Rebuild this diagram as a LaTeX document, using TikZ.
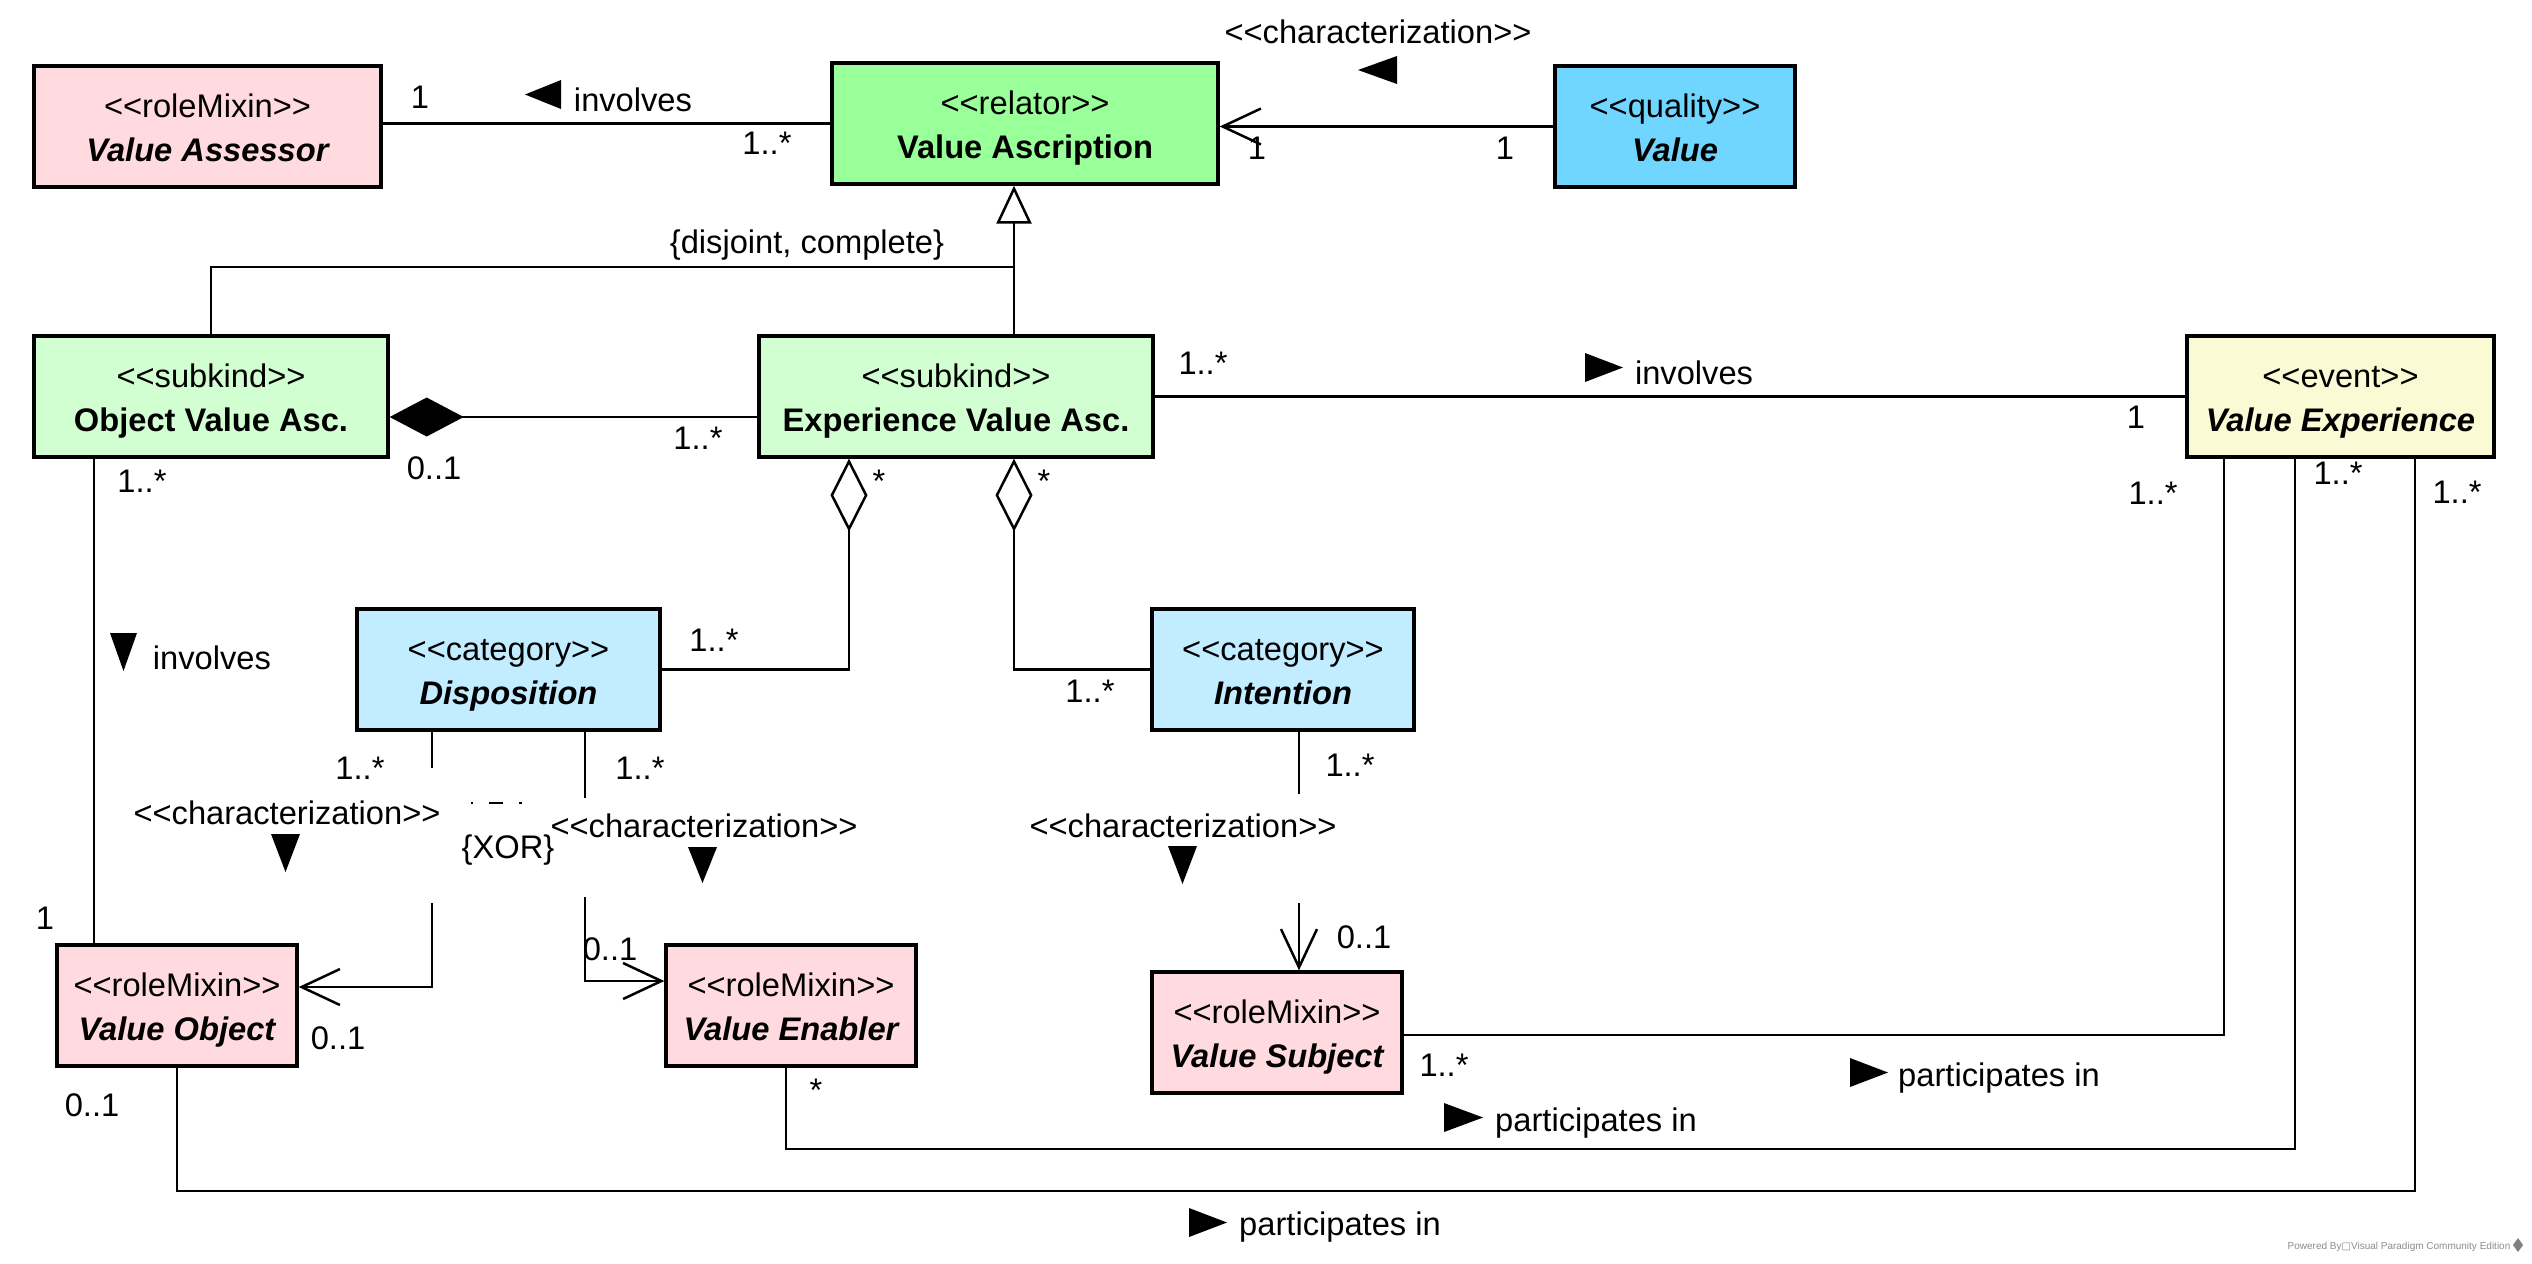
\documentclass[tikz,border=0pt]{standalone}
\usepackage{fontspec}
\setmainfont{Liberation Sans}
\newfontfamily\dejavu{DejaVu Sans}
\usetikzlibrary{arrows.meta,calc}
\definecolor{rolemix}{RGB}{255,218,222}
\definecolor{relatorc}{RGB}{153,255,153}
\definecolor{qualityc}{RGB}{112,214,255}
\definecolor{subkindc}{RGB}{209,255,209}
\definecolor{eventc}{RGB}{250,250,212}
\definecolor{categoryc}{RGB}{194,236,255}
\newcommand\sopen{<\kern0pt<}
\newcommand\sclose{>\kern0pt>}
\tikzset{
 clsbox/.style={draw=black, line width=1pt, inner sep=0pt, rectangle},
 stereo/.style={anchor=base, inner sep=0pt, font=\fontsize{9.8}{11}\selectfont},
 titlebf/.style={anchor=base, inner sep=0pt, font=\fontsize{9.8}{11}\selectfont\bfseries},
 titleit/.style={anchor=base, inner sep=0pt, font=\fontsize{9.8}{11}\selectfont\bfseries\itshape},
 lbl/.style={inner sep=0pt, font=\fontsize{9.8}{11}\selectfont},
 conn/.style={line width=0.75pt},
 navi/.style={conn, -{Straight Barb[length=11.5pt,width=10.8pt]}},
 gen/.style={conn, -{Triangle[open,length=11.4pt,width=10.5pt,fill=white]}},
 comp/.style={conn, {Diamond[length=22.2pt,width=11.7pt]}-},
 aggr/.style={conn, {Diamond[open,length=21.9pt,width=11.1pt,fill=white]}-},
}
% name, x1, y1, x2, y2, fill, stereotype, title, title style
\newcommand\umlclass[9]{%
  \node[clsbox, fill=#6, minimum width={(#4-#2)*0.3pt}, minimum height={(#5-#3)*0.3pt}] (#1) at ({(#2+#4)/2},{(#3+#5)/2}) {};
  \node[stereo] (#1-st) at ($(#1.center)+(0,-9.5)$) {\sopen#7\sclose};
  \node[#9] (#1-ti) at ($(#1.center)+(0,35)$) {#8};
}
\begin{document}
\begin{tikzpicture}[x=0.3pt,y=-0.3pt]
\useasboundingbox (0,0) rectangle (2532,1263);
\fill[white] (0,0) rectangle (2532,1263);

% classes
\umlclass{vas}{34}{66}{381}{187}{rolemix}{roleMixin}{Value Assessor}{titleit}
\umlclass{vasc}{832}{63}{1218}{184}{relatorc}{relator}{Value Ascription}{titlebf}
\umlclass{val}{1555}{66}{1795}{187}{qualityc}{quality}{Value}{titleit}
\umlclass{ovasc}{34}{336}{388}{457}{subkindc}{subkind}{Object Value Asc.}{titlebf}
\umlclass{evasc}{759}{336}{1153}{457}{subkindc}{subkind}{Experience Value Asc.}{titlebf}
\umlclass{vexp}{2187}{336}{2494}{457}{eventc}{event}{Value Experience}{titleit}
\umlclass{disp}{357}{609}{660}{730}{categoryc}{category}{Disposition}{titleit}
\umlclass{intn}{1152}{609}{1414}{730}{categoryc}{category}{Intention}{titleit}
\umlclass{vobj}{57}{945}{297}{1066}{rolemix}{roleMixin}{Value Object}{titleit}
\umlclass{venab}{666}{945}{916}{1066}{rolemix}{roleMixin}{Value Enabler}{titleit}
\umlclass{vsub}{1152}{972}{1402}{1093}{rolemix}{roleMixin}{Value Subject}{titleit}

% connectors
\draw[conn] (vas.east |- vasc.west) -- (vasc.west);
\draw[navi] (val.west) -- (vasc.east |- val.west);
\coordinate (gx) at (1014,267);
\draw[gen] (evasc.north -| gx) -- (vasc.south -| gx);
\draw[conn] (ovasc.north) |- (gx);
\coordinate (cy) at (0,417);
\draw[comp] (ovasc.east |- cy) -- (evasc.west |- cy);
\draw[conn] (evasc.east) -- (vexp.west |- evasc.east);
\coordinate (fx) at (94,0);
\draw[conn] (ovasc.south -| fx) -- (vobj.north -| fx);
\coordinate (g1) at (849,0);
\coordinate (h1) at (1014,0);
\draw[aggr] (evasc.south -| g1) |- (disp.east);
\draw[aggr] (evasc.south -| h1) |- (intn.west);
\coordinate (ix) at (432,987);
\draw[navi] (disp.south -| ix) |- (vobj.east |- ix);
\coordinate (jx) at (585,981);
\draw[navi] (disp.south -| jx) |- (venab.west |- jx);
\coordinate (kx) at (1299,0);
\draw[navi] (intn.south -| kx) -- (vsub.north -| kx);
\coordinate (lc) at (2224,1035);
\draw[conn] (vsub.east |- lc) -| (vexp.south -| lc);
\coordinate (mc1) at (786,1149);
\coordinate (mc2) at (2295,1149);
\draw[conn] (venab.south -| mc1) -- (mc1) -- (mc2) -- (vexp.south -| mc2);
\coordinate (nc1) at (177,1191);
\coordinate (nc2) at (2415,1191);
\draw[conn] (vobj.south -| nc1) -- (nc1) -- (nc2) -- (vexp.south -| nc2);

% XOR constraint
\coordinate (xa) at (432,803);
\coordinate (xb) at (585,803);
\draw[line width=0.55pt, dash pattern=on 4.2pt off 4.8pt, dash phase=0.9pt] (xa) -- (xb);

% label backgrounds hiding parts of lines
\fill[white] (415,768) rectangle (471,903);
\fill[white] (522,798) rectangle (600,897);
\fill[white] (1285,794) rectangle (1313,903);

% labels
\node[lbl] (lA1) at (420,97) {1};
\node[lbl] (lA2) at (767,143) {1..*};
\node[lbl] (lAt) at (633,100) {involves};
\fill (525,94.5) -- (561,80) -- (561,109) -- cycle;
\node[lbl] (lBs) at (1378,32) {\sopen characterization\sclose};
\fill (1358,70) -- (1397,56) -- (1397,84) -- cycle;
\node[lbl] (lB1) at (1257,148) {1};
\node[lbl] (lB2) at (1505,148) {1};
\node[lbl] (lC) at (807,245) {\{disjoint, complete\}};
\node[lbl] (lD1) at (698,438) {1..*};
\node[lbl] (lD2) at (434,468) {0..1};
\node[lbl] (lE1) at (1203,363) {1..*};
\node[lbl] (lE2) at (2136,417) {1};
\fill (1623,367.5) -- (1585,353) -- (1585,382) -- cycle;
\node[lbl] (lEt) at (1694,373) {involves};
\node[lbl] (lF1) at (142,481) {1..*};
\node[lbl] (lF2) at (45,918) {1};
\fill (123.5,671) -- (110,633) -- (137,633) -- cycle;
\node[lbl] (lFt) at (212,658) {involves};
\node[lbl] (lG1) at (879,481) {*};
\node[lbl] (lG2) at (714,640) {1..*};
\node[lbl] (lH1) at (1044,481) {*};
\node[lbl] (lH2) at (1090,691) {1..*};
\node[lbl] (lI1) at (360,768) {1..*};
\node[lbl] (lI2) at (338,1038) {0..1};
\node[lbl] (lIs) at (287,813) {\sopen characterization\sclose};
\fill (285.5,872) -- (271,834) -- (300,834) -- cycle;
\node[lbl] (lJ1) at (640,768) {1..*};
\node[lbl] (lJ2) at (610,949) {0..1};
\node[lbl] (lJs) at (704,826) {\sopen characterization\sclose};
\fill (702.5,883) -- (688,847) -- (717,847) -- cycle;
\node[lbl] (lX) at (508,850) {\{XOR\}};
\node[lbl] (lK1) at (1350,765) {1..*};
\node[lbl] (lK2) at (1364,937) {0..1};
\node[lbl] (lKs) at (1183,826) {\sopen characterization\sclose};
\fill (1182.5,884) -- (1168,846) -- (1197,846) -- cycle;
\node[lbl] (lL1) at (1444,1065) {1..*};
\node[lbl] (lL2) at (2153,493) {1..*};
\fill (1888,1072.5) -- (1850,1058) -- (1850,1087) -- cycle;
\node[lbl] (lLt) at (1999,1078) {participates in};
\node[lbl] (lM1) at (816,1090) {*};
\node[lbl] (lM2) at (2338,473) {1..*};
\fill (1483,1117.5) -- (1444,1103) -- (1444,1132) -- cycle;
\node[lbl] (lMt) at (1596,1123) {participates in};
\node[lbl] (lN1) at (92,1105) {0..1};
\node[lbl] (lN2) at (2457,492) {1..*};
\fill (1227,1222.5) -- (1189,1208) -- (1189,1237) -- cycle;
\node[lbl] (lNt) at (1340,1227) {participates in};

% footer
\node[inner sep=0pt, font=\fontsize{3}{3.6}\selectfont, text=black!45] (foot) at (2399,1247) {Powered By{\dejavu □}Visual Paradigm Community Edition};
\fill[black!50] (2518,1238) -- (2523,1245) -- (2518,1252) -- (2513,1245) -- cycle;
\end{tikzpicture}
\end{document}
